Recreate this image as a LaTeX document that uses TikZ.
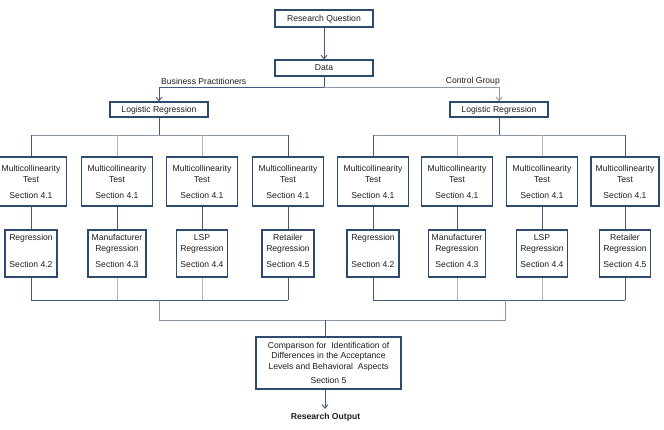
\documentclass[tikz,border=0pt]{standalone}
\usepackage{fontspec}
\setmainfont{Liberation Sans}
\usetikzlibrary{arrows.meta}

\definecolor{boxblue}{HTML}{2E4A6C}
\definecolor{linedark}{HTML}{45597A}
\definecolor{linemid}{HTML}{8C97A6}
\definecolor{linelight}{HTML}{B4B8BE}
\definecolor{textgray}{HTML}{1E1E1E}

\tikzset{
  box/.style={draw=boxblue, line width=1.3pt, fill=white, text=textgray,
    align=center, inner sep=0pt, font=\fontsize{8.6}{11}\selectfont},
  onebox/.style={box, minimum width=98pt, text depth=0pt},
  lbl/.style={text=textgray, inner sep=0pt, font=\fontsize{8.6}{11}\selectfont},
  conn/.style={draw=linedark, line width=0.9pt},
  connmid/.style={draw=linemid, line width=0.9pt},
  connlight/.style={draw=linelight, line width=0.8pt},
  arr/.style={-{Straight Barb[length=3.5pt,width=6pt]}},
}

\begin{document}
\begin{tikzpicture}[x=1pt, y=-1pt]
  \useasboundingbox (0,0) rectangle (664,429);

  % question and data
  \node[onebox, minimum height=17pt] (rq) at (324,18.5) {Research Question};
  \node[onebox, minimum height=16pt] (data) at (324,68) {Data};
  \node[onebox, minimum height=15pt] (lgL) at (159,109.5) {Logistic Regression};
  \node[onebox, minimum height=15pt] (lgR) at (499,109.5) {Logistic Regression};
  \node[lbl, anchor=west] (bp) at (161,81) {Business Practitioners};
  \node[lbl, anchor=east] (cg) at (500,81) {Control Group};

  \coordinate (split) at (324,87);
  \draw[conn, arr] (rq) -- (data);
  \draw[conn] (data) -- (split);
  \draw[conn, arr] (split) -| (lgL);
  \draw[connmid, arr] (split) -| (lgR);

  % multicollinearity tests
  \foreach \i/\x/\w in {1/31/71, 2/117/71, 3/202/71, 4/288/71,
                        5/373/71, 6/457/71, 7/542/71, 8/625/68} {
    \node[box, minimum width=\w pt, minimum height=49pt] (m\i) at (\x,181.5)
      {Multicollinearity\\Test\\[5pt]Section 4.1};
  }

  % regressions
  \foreach \i/\x/\w/\a/\b/\s in {1/31/52/Regression/~/4.2, 2/117/58/Manufacturer/Regression/4.3,
      3/202/51/LSP/Regression/4.4, 4/288/52/Retailer/Regression/4.5,
      5/373/52/Regression/~/4.2, 6/457/57/Manufacturer/Regression/4.3,
      7/542/51/LSP/Regression/4.4, 8/625/51/Retailer/Regression/4.5} {
    \node[box, minimum width=\w pt, minimum height=47pt, text depth=5.5pt] (r\i) at (\x,253.5)
      {\a\\\b\\[5pt]Section \s};
    \draw[conn] (m\i) -- (r\i);
  }

  % upper bars
  \coordinate (tbL) at (159,135);
  \coordinate (tbR) at (499,135);
  \draw[conn] (lgL) -- (tbL);
  \draw[conn] (lgR) -- (tbR);
  \draw[connmid] (m1.north |- tbL) -- (m4.north |- tbL);
  \draw[connmid] (m5.north |- tbR) -- (m8.north |- tbR);
  \foreach \i in {1,4,5,8} \draw[conn] (m\i) -- (m\i.north |- tbL);
  \foreach \i in {2,3,6,7} \draw[connlight] (m\i) -- (m\i.north |- tbL);

  % lower bars
  \coordinate (bbL) at (159,300);
  \coordinate (bbR) at (505,300);
  \draw[conn] (r1.south |- bbL) -- (r4.south |- bbL);
  \draw[conn] (r5.south |- bbR) -- (r8.south |- bbR);
  \foreach \i in {1,4,5,8} \draw[conn] (r\i) -- (r\i.south |- bbL);
  \foreach \i in {2,3,6,7} \draw[connlight] (r\i) -- (r\i.south |- bbL);

  % comparison and output
  \node[box, minimum width=145pt, minimum height=52pt,
        font=\fontsize{8.6}{10.5}\selectfont] (cmp) at (328.5,363)
    {Comparison for\ \ Identification of\\Differences in the Acceptance\\
     Levels and Behavioral\ \ Aspects\\[4pt]Section 5};
  \node[lbl, font=\fontsize{8.6}{11}\selectfont\bfseries, inner sep=4pt] (out) at (325.5,417) {Research Output};

  \coordinate (lb) at (325,320);
  \draw[connmid] (bbL) -- (bbL |- lb) -- (bbR |- lb) -- (bbR);
  \draw[conn] (lb) -- (lb |- cmp.north);
  \draw[conn, arr] (cmp.south -| lb) -- (out.north -| lb);
\end{tikzpicture}
\end{document}
